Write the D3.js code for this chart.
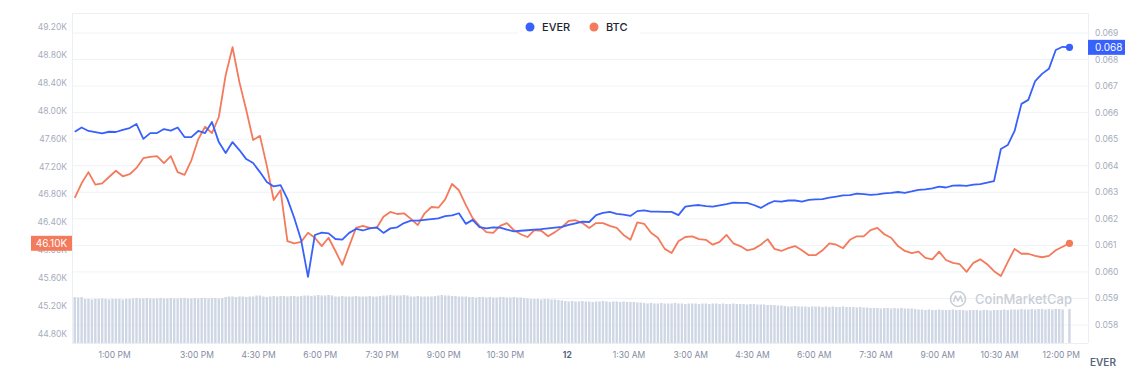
<!DOCTYPE html>
<html><head><meta charset="utf-8">
<script src="https://cdn.jsdelivr.net/npm/d3@7"></script>
<style>body{margin:0;background:#fff;} svg{display:block;font-family:Inter,"Noto Sans",sans-serif;}</style>
</head><body><svg id="c" width="1137" height="377"></svg>
<script>
// ---------- DATA ----------
const seriesNames = ["EVER", "BTC"];
const startTime = "2021-11-11T12:02:00";   // first sample
const stepMinutes = 10;                     // line sample spacing
const everValues = [0.06528,0.06544,0.06531,0.06527,0.06522,0.06528,0.06527,0.06535,0.06542,0.06557,
 0.06501,0.06523,0.06523,0.06538,0.06532,0.06544,0.06508,0.06508,0.06531,0.06523,
 0.06565,0.06489,0.06448,0.06489,0.06459,0.06425,0.06410,0.06376,0.06339,0.06322,
 0.06327,0.06275,0.06203,0.06120,0.05981,0.06139,0.06148,0.06145,0.06124,0.06122,
 0.06147,0.06162,0.06156,0.06164,0.06168,0.06147,0.06164,0.06168,0.06184,0.06193,
 0.06193,0.06196,0.06199,0.06202,0.06210,0.06213,0.06221,0.06181,0.06196,0.06169,
 0.06164,0.06168,0.06167,0.06159,0.06153,0.06155,0.06157,0.06159,0.06161,0.06164,
 0.06167,0.06170,0.06177,0.06183,0.06189,0.06188,0.06214,0.06222,0.06226,0.06219,
 0.06216,0.06211,0.06229,0.06232,0.06227,0.06227,0.06226,0.06226,0.06214,0.06246,
 0.06250,0.06252,0.06248,0.06246,0.06251,0.06255,0.06261,0.06260,0.06260,0.06252,
 0.06241,0.06256,0.06267,0.06265,0.06269,0.06269,0.06265,0.06271,0.06273,0.06274,
 0.06280,0.06284,0.06288,0.06289,0.06295,0.06293,0.06290,0.06292,0.06296,0.06298,
 0.06301,0.06298,0.06303,0.06309,0.06311,0.06315,0.06321,0.06318,0.06325,0.06326,
 0.06324,0.06329,0.06331,0.06336,0.06342,0.06463,0.06478,0.06531,0.06633,0.06648,
 0.06719,0.06746,0.06765,0.06836,0.06848,0.06846];
const btcValues = [46.75,46.96,47.12,46.94,46.96,47.05,47.14,47.06,47.09,47.18,
 47.32,47.34,47.35,47.25,47.35,47.12,47.08,47.29,47.59,47.77,
 47.68,47.91,48.51,48.91,48.41,48.01,47.58,47.64,47.21,46.72,
 46.86,46.13,46.10,46.12,46.25,46.18,46.06,46.18,45.99,45.79,
 46.06,46.32,46.35,46.32,46.32,46.48,46.55,46.52,46.53,46.45,
 46.36,46.53,46.62,46.61,46.73,46.95,46.86,46.65,46.46,46.35,
 46.26,46.25,46.35,46.39,46.29,46.23,46.19,46.29,46.28,46.20,
 46.26,46.33,46.42,46.43,46.39,46.32,46.39,46.39,46.35,46.32,
 46.22,46.15,46.40,46.38,46.25,46.18,46.02,45.96,46.13,46.19,
 46.20,46.16,46.15,46.08,46.12,46.22,46.10,46.06,46.00,46.02,
 46.08,46.16,46.02,45.99,46.03,46.06,46.00,45.93,45.93,46.00,
 46.10,46.08,46.03,46.15,46.20,46.20,46.29,46.32,46.23,46.18,
 46.06,45.99,45.96,45.98,45.89,45.87,45.98,45.86,45.82,45.80,
 45.69,45.82,45.87,45.80,45.70,45.63,45.83,46.02,45.95,45.95,
 45.92,45.90,45.92,46.00,46.05,46.10];
const volumeStepMinutes = 5;
const volumeValues = [0.92,0.91,0.92,
 0.88,0.88,0.87,0.88,0.88,0.89,0.88,0.87,0.88,0.88,0.88,0.87,0.88,0.88,
 0.89,0.90,0.89,0.89,0.90,0.89,0.89,0.89,0.90,0.89,0.89,0.90,0.89,0.89,0.90,0.90,0.89,0.89,0.90,0.89,0.90,0.90,0.89,0.90,0.90,0.89,0.90,
 0.92,0.93,0.93,0.92,0.93,0.93,0.92,0.93,0.93,0.95,0.95,0.93,0.92,
 0.93,0.94,0.93,0.94,0.94,0.93,0.94,0.94,0.93,0.94,0.95,0.95,0.94,
 0.95,0.96,0.95,0.95,0.96,0.95,
 0.93,0.93,0.94,0.93,0.93,0.93,0.94,0.93,0.93,0.93,0.94,0.93,0.93,0.94,
 0.95,0.95,0.96,0.95,0.95,0.95,0.96,0.95,
 0.93,0.93,0.94,0.93,0.93,0.93,0.93,0.94,
 0.95,0.96,0.95,0.95,0.94,0.94,
 0.93,0.93,0.93,0.92,
 0.92,0.91,0.92,0.92,0.91,0.92,0.91,0.91,0.92,0.92,0.91,0.91,0.92,0.91,0.91,0.90,
 0.89,0.88,0.88,0.88,0.87,0.88,0.88,0.87,0.87,0.86,0.85,
 0.84,0.83,0.84,0.83,0.83,0.84,0.83,0.83,0.82,0.83,0.83,0.84,0.83,0.82,0.83,0.83,0.82,0.83,0.82,0.82,0.82,0.81,0.81,
 0.80,0.79,0.80,0.79,0.79,0.80,0.79,0.79,0.79,0.80,0.79,0.79,0.78,0.79,0.79,0.79,0.78,0.79,0.79,0.78,
 0.79,0.79,0.78,0.79,0.78,0.78,0.79,0.78,0.78,0.78,0.77,0.78,0.78,0.77,0.77,0.77,
 0.76,0.76,0.76,0.75,0.75,
 0.74,0.73,0.73,0.74,0.73,0.73,0.73,0.72,0.73,0.73,0.73,0.72,0.73,0.72,0.73,0.72,0.72,0.73,0.72,0.72,0.72,0.71,0.72,0.71,0.71,
 0.70,0.70,0.70,0.69,0.70,0.70,0.69,0.70,0.69,0.70,0.69,0.69,0.69,0.68,
 0.67,0.67,0.66,0.67,0.66,0.66,0.67,0.66,0.66,0.66,0.67,0.66,0.66,0.66,0.65,0.66,0.66,0.66,0.65,0.66,0.66,0.65,0.66,0.66,0.66,0.67,0.66,0.67,0.67,
 0.67,0.68,0.67,0.67,0.68,0.67,0.68,0.68,0.67,0.68,0.67,0.68,0.68,0.67,
 0,0.68];
const btcTicks = [44.8,45.2,45.6,46.0,46.4,46.8,47.2,47.6,48.0,48.4,48.8,49.2];
const everTicks = [0.058,0.059,0.060,0.061,0.062,0.063,0.064,0.065,0.066,0.067,0.068,0.069];
const timeTicks = ["2021-11-11T13:00","2021-11-11T15:00","2021-11-11T16:30","2021-11-11T18:00",
 "2021-11-11T19:30","2021-11-11T21:00","2021-11-11T22:30","2021-11-12T00:00","2021-11-12T01:30",
 "2021-11-12T03:00","2021-11-12T04:30","2021-11-12T06:00","2021-11-12T07:30","2021-11-12T09:00",
 "2021-11-12T10:30","2021-11-12T12:00"];
const timeTickLabels = ["1:00 PM","3:00 PM","4:30 PM","6:00 PM","7:30 PM","9:00 PM","10:30 PM","12",
 "1:30 AM","3:00 AM","4:30 AM","6:00 AM","7:30 AM","9:00 AM","10:30 AM","12:00 PM"];
const timeDomain = ["2021-11-11T11:58:00","2021-11-12T12:39:00"];
const colors = {EVER:"#3861fb", BTC:"#f47a5c"};

// ---------- CHART ----------
const svg = d3.select("#c");
const L = 72, R = 1088, T = 13, B = 343;
const t0 = new Date(startTime);
const times = everValues.map((_, i) => d3.timeMinute.offset(t0, i * stepMinutes));
const x = d3.scaleTime().domain(timeDomain.map(s => new Date(s))).range([L, R]);
const yBtc = d3.scaleLinear().domain([44.8, 49.2]).range([334, 27]);
const yEver = d3.scaleLinear().domain([0.058, 0.069]).range([325, 33]);
const yVol = d3.scaleLinear().domain([0, 1]).range([B, B - 50]);

// grid lines (aligned with right axis)
svg.append("g").selectAll("line").data(everTicks).join("line")
  .attr("x1", L).attr("x2", R).attr("y1", d => yEver(d)).attr("y2", d => yEver(d))
  .attr("stroke", "#eff2f5").attr("stroke-width", 1);
// frame
svg.append("line").attr("x1", L).attr("x2", R).attr("y1", T + .5).attr("y2", T + .5).attr("stroke", "#eceff3");
svg.append("line").attr("x1", L).attr("x2", R).attr("y1", B + .5).attr("y2", B + .5).attr("stroke", "#eceff3");
svg.append("line").attr("x1", L + .5).attr("x2", L + .5).attr("y1", T).attr("y2", B).attr("stroke", "#eceff3");
svg.append("line").attr("x1", R + .5).attr("x2", R + .5).attr("y1", T).attr("y2", B).attr("stroke", "#eceff3");

// watermark
const wm = svg.append("g").attr("transform", "translate(958,299)");
wm.append("circle").attr("r", 7.5).attr("fill", "none").attr("stroke", "#c9ced8").attr("stroke-width", 1.6);
wm.append("path").attr("d", "M-4.5,3 L-2.5,-3 L0,2 L2.5,-3 L4.5,3").attr("fill", "none")
  .attr("stroke", "#c9ced8").attr("stroke-width", 1.5).attr("stroke-linejoin", "round");
svg.append("text").attr("x", 975).attr("y", 304).text("CoinMarketCap")
  .attr("font-size", 13).attr("font-weight", 500).attr("fill", "#c9ced8");

// volume bars
const volTimes = volumeValues.map((_, i) => d3.timeMinute.offset(t0, i * volumeStepMinutes));
svg.append("g").selectAll("rect").data(volumeValues).join("rect")
  .attr("x", (d, i) => x(volTimes[i]) - 1.2).attr("width", 2.4)
  .attr("y", d => yVol(d)).attr("height", d => B - yVol(d))
  .attr("fill", "#cfd6e4");

// lines
const lineBtc = d3.line().x((d, i) => x(times[i])).y(d => yBtc(d));
const lineEver = d3.line().x((d, i) => x(times[i])).y(d => yEver(d));
svg.append("path").attr("d", lineBtc(btcValues)).attr("fill", "none")
  .attr("stroke", colors.BTC).attr("stroke-width", 1.8).attr("stroke-linejoin", "round");
svg.append("path").attr("d", lineEver(everValues)).attr("fill", "none")
  .attr("stroke", colors.EVER).attr("stroke-width", 1.8).attr("stroke-linejoin", "round");
const li = everValues.length - 1;
svg.append("circle").attr("cx", x(times[li])).attr("cy", yBtc(btcValues[li])).attr("r", 3.6).attr("fill", colors.BTC);
svg.append("circle").attr("cx", x(times[li])).attr("cy", yEver(everValues[li])).attr("r", 3.6).attr("fill", colors.EVER);

// left axis labels
svg.append("g").selectAll("text").data(btcTicks).join("text")
  .attr("x", 67).attr("y", d => yBtc(d) + 3).attr("text-anchor", "end")
  .attr("font-size", 8.5).attr("fill", "#a6acbd").text(d => d3.format(".2f")(d) + "K");
// right axis labels
svg.append("g").selectAll("text").data(everTicks).join("text")
  .attr("x", 1095).attr("y", d => yEver(d) + 3)
  .attr("font-size", 8.5).attr("fill", "#a6acbd").text(d => d3.format(".3f")(d));
// x axis labels
svg.append("g").selectAll("text").data(timeTicks).join("text")
  .attr("x", d => x(new Date(d))).attr("y", 358).attr("text-anchor", "middle")
  .attr("font-size", 8.5)
  .attr("font-weight", (d, i) => timeTickLabels[i] === "12" ? 700 : 400)
  .attr("fill", (d, i) => timeTickLabels[i] === "12" ? "#58667e" : "#858ca2")
  .text((d, i) => timeTickLabels[i]);
svg.append("text").attr("x", 1090).attr("y", 366).text("EVER")
  .attr("font-size", 10).attr("font-weight", 600).attr("fill", "#58667e");

// value badges
const btcLast = btcValues[li], everLast = everValues[li];
svg.append("rect").attr("x", 31).attr("y", yBtc(btcLast) - 7.5).attr("width", 41).attr("height", 15).attr("fill", colors.BTC);
svg.append("text").attr("x", 51.5).attr("y", yBtc(btcLast) + 3.5).attr("text-anchor", "middle")
  .attr("font-size", 10).attr("fill", "#fff").text(d3.format(".2f")(btcLast) + "K");
svg.append("rect").attr("x", 1088).attr("y", yEver(everLast) - 7.5).attr("width", 37).attr("height", 15).attr("fill", colors.EVER);
svg.append("text").attr("x", 1095).attr("y", yEver(everLast) + 3.5)
  .attr("font-size", 10).attr("fill", "#fff").text(d3.format(".3f")(everLast));

// legend
const lg = svg.append("g");
lg.append("rect").attr("x", 518).attr("y", 17).attr("width", 122).attr("height", 21).attr("fill", "#fff");
const items = [{name: seriesNames[0], cx: 530}, {name: seriesNames[1], cx: 594}];
items.forEach(it => {
  lg.append("circle").attr("cx", it.cx).attr("cy", 27).attr("r", 4.5).attr("fill", colors[it.name]);
  lg.append("text").attr("x", it.cx + 12).attr("y", 31).text(it.name)
    .attr("font-size", 11).attr("font-weight", 500).attr("fill", "#222531");
});
</script></body></html>
